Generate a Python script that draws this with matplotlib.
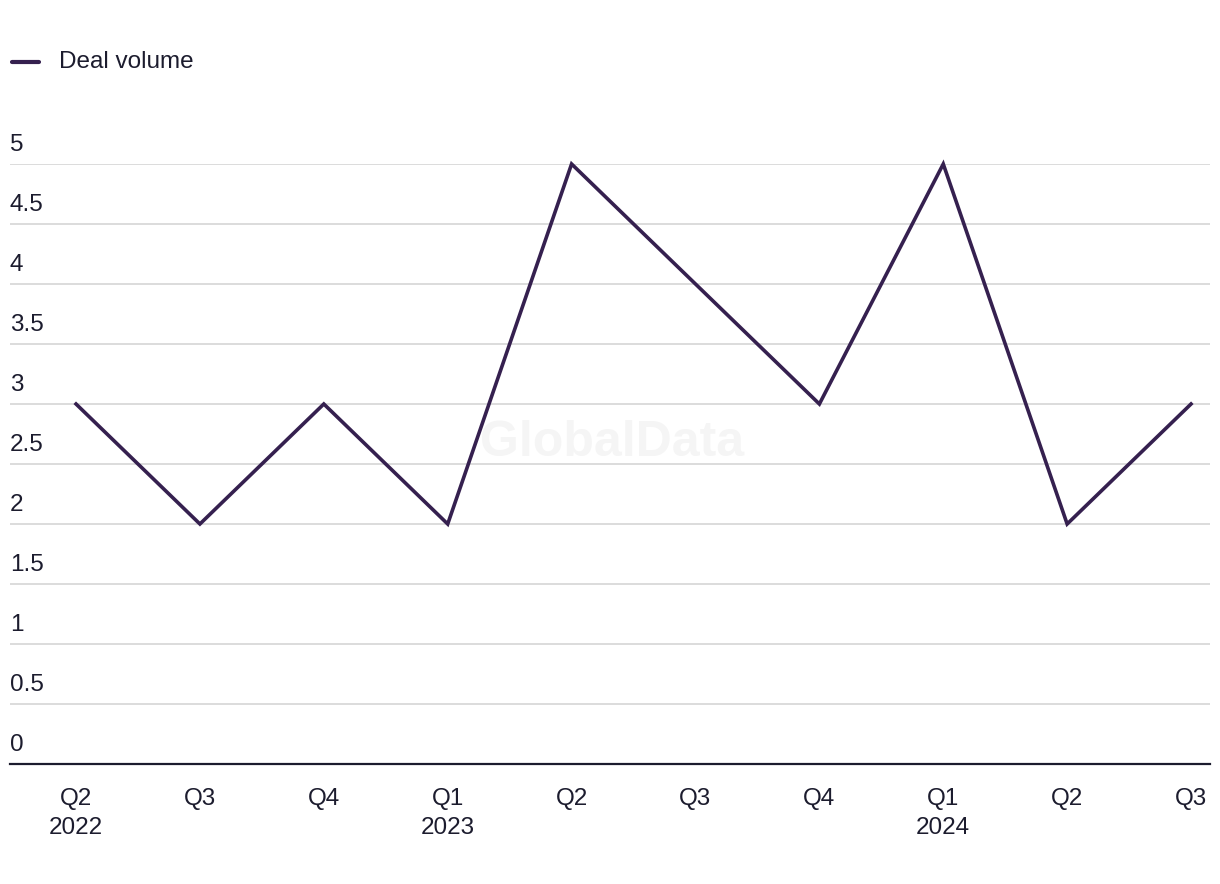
import matplotlib
matplotlib.use("Agg")
import matplotlib.pyplot as plt
from matplotlib.lines import Line2D

quarters = ["Q2\n2022", "Q3", "Q4", "Q1\n2023", "Q2", "Q3", "Q4", "Q1\n2024", "Q2", "Q3"]
deal_volume = [3, 2, 3, 2, 5, 4, 3, 5, 2, 3]
y_ticks = [0, 0.5, 1, 1.5, 2, 2.5, 3, 3.5, 4, 4.5, 5]
y_labels = ["0", "0.5", "1", "1.5", "2", "2.5", "3", "3.5", "4", "4.5", "5"]

plt.rcParams['font.family'] = ['Liberation Sans', 'DejaVu Sans']
text_color = "#1c1c2e"
line_color = "#35204f"
grid_color = "#d9d9d9"
fs = 17.5

W, H = 1220, 884
fig = plt.figure(figsize=(W / 100, H / 100), dpi=100)
ax = fig.add_axes([10 / W, 120 / H, 1200 / W, 600 / H])

x = list(range(len(deal_volume)))
ax.plot(x, deal_volume, color=line_color, lw=2.6, solid_joinstyle="miter", clip_on=False, zorder=3)

ax.set_xlim(-0.533, 9.153)
ax.set_ylim(0, 5)

for yv in y_ticks[1:]:
    ax.axhline(yv, color=grid_color, lw=1.3, zorder=1)
for yv, lab in zip(y_ticks, y_labels):
    ax.annotate(lab, xy=(0, yv), xycoords=("axes fraction", "data"),
                xytext=(0, 8), textcoords="offset pixels",
                ha="left", va="bottom", fontsize=fs, color=text_color)

for s in ["top", "right", "left"]:
    ax.spines[s].set_visible(False)
ax.spines["bottom"].set_color(text_color)
ax.spines["bottom"].set_linewidth(1.6)

ax.set_yticks([])
ax.set_xticks(x)
ax.set_xticklabels(quarters, fontsize=fs, color=text_color, linespacing=1.45)
ax.tick_params(axis="x", length=0, pad=17)

# watermark
fig.text(612 / W, 1 - 443 / H, "GlobalData", fontsize=36, fontweight="bold",
         color="#f5f5f5", ha="center", va="center", zorder=0)

# legend
fig.add_artist(Line2D([12 / W, 39 / W], [1 - 62 / H, 1 - 62 / H], color=line_color, lw=3,
                      solid_capstyle="round"))
fig.text(59 / W, 1 - 62 / H, "Deal volume", fontsize=fs, color=text_color, ha="left", va="center")

fig.savefig("out.png", dpi=100, facecolor="white")
